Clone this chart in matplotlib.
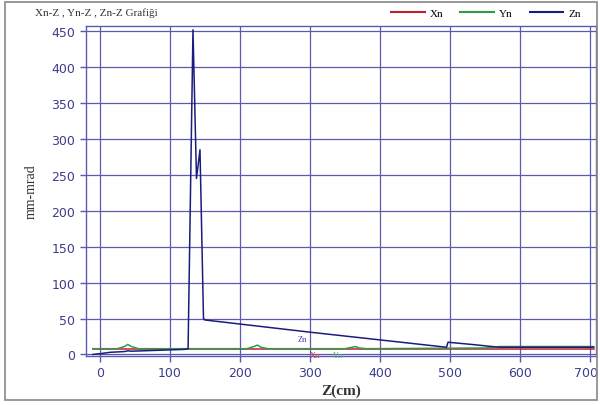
import numpy as np
import matplotlib.pyplot as plt
import matplotlib.transforms as mtransforms
from matplotlib.patches import Rectangle
from matplotlib.lines import Line2D

# Zn curve (mm-mrad vs Z cm)
z_zn = [-10, 0, 15, 35, 40, 45, 60, 90, 120, 124, 126, 133, 138, 143, 148, 150,
        300, 495, 497, 530, 570, 600, 705]
zn = [0, 1, 3, 4, 5, 4.5, 5, 6, 7, 7.5, 8, 452, 245, 285, 50, 48,
      31, 10, 17, 14, 10, 10, 10]

# Yn curve
z_yn = [-10, 25, 35, 40, 45, 55, 210, 220, 225, 230, 240, 350, 360, 365, 370, 380,
        550, 570, 705]
yn = [8, 8, 11, 14, 11, 8, 8, 11, 13, 10, 8, 8, 10, 11, 9, 8,
      9, 11, 11]

# Xn curve (hidden under Yn)
z_xn = [-10, 705]
xn = [8, 8]

grid_c = '#5a5ab4'
tick_c = '#3c3c8c'
serif = 'Liberation Serif'

fig = plt.figure(figsize=(6, 4.06), dpi=100)
fig.add_artist(Rectangle((0.008, 0.012), 0.987, 0.98, transform=fig.transFigure,
                         fill=False, edgecolor='#888888', lw=1.2))

ax = fig.add_axes([0.143, 0.121, 0.850, 0.812])
ax.plot(z_xn, xn, color='#c0202a', lw=1.1)
ax.plot(z_yn, yn, color='#2e9a4c', lw=1.1)
ax.plot(z_zn, zn, color='#1c1c7e', lw=1.1)

ax.set_xlim(-20, 708)
ax.set_ylim(-2, 457)
ax.set_xticks(range(0, 701, 100))
ax.set_yticks(range(0, 451, 50))
ax.grid(True, color=grid_c, lw=0.9)
ax.set_axisbelow(True)
for s in ax.spines.values():
    s.set_color(grid_c)
    s.set_linewidth(1.0)
ax.tick_params(colors=grid_c, labelcolor=tick_c, labelsize=9, length=4, width=1)

# keep the last x label inside the figure
last = ax.get_xticklabels()[-1]
last.set_transform(last.get_transform() +
                   mtransforms.ScaledTranslation(-4 / 100, 0, fig.dpi_scale_trans))

ax.set_xlabel('Z(cm)', fontfamily=serif, fontsize=11, fontweight='bold',
              color='#333333', labelpad=3)
ax.set_ylabel('mm-mrad', fontfamily=serif, fontsize=10, color='#333333', labelpad=10)

ax.text(283, 19, 'Zn', color='#3a3aa0', fontsize=6, fontfamily=serif)
ax.text(300, -4, 'Xn', color='#d04050', fontsize=6, fontfamily=serif)
ax.text(333, -4, 'Yn', color='#60b070', fontsize=6, fontfamily=serif)

fig.text(0.058, 0.968, 'Xn-Z , Yn-Z , Zn-Z Grafiği', fontfamily=serif, fontsize=8,
         color='#333333', va='center')

handles = [Line2D([], [], color='#c0202a', lw=1.5),
           Line2D([], [], color='#2e9a4c', lw=1.5),
           Line2D([], [], color='#1c1c7e', lw=1.5)]
fig.legend(handles, ['Xn', 'Yn', 'Zn'], loc='center right', bbox_to_anchor=(0.985, 0.965),
           ncol=3, frameon=False, prop={'family': serif, 'size': 8},
           handlelength=3, columnspacing=1.5, handletextpad=0.5)

fig.savefig('out.png', dpi=100)
